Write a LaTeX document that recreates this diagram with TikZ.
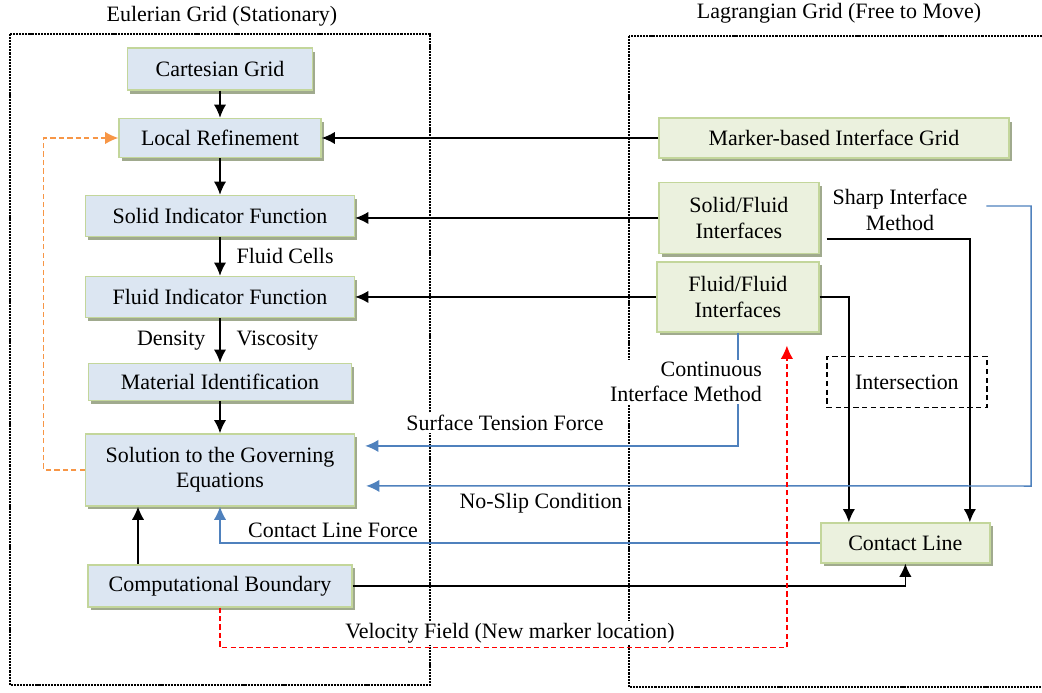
\documentclass[tikz,border=0pt]{standalone}
\usepackage{fontspec}
\setmainfont{Liberation Serif}
\usepackage{tikz}
\definecolor{paleblue}{RGB}{220,230,242}
\definecolor{palegreen}{RGB}{235,241,222}
\definecolor{olive}{RGB}{195,214,155}
\definecolor{shade}{RGB}{160,170,142}
\definecolor{steel}{RGB}{79,129,189}
\definecolor{tangerine}{RGB}{247,150,70}
\usetikzlibrary{shapes.geometric, arrows.meta, shadows, calc}
\tikzstyle{gridbox} = [rectangle, inner sep=0pt, text centered, align=center, draw=olive, line width=0.8pt, drop shadow={shadow xshift=1.6pt, shadow yshift=-2pt, fill=shade, opacity=1}]
\tikzstyle{euler} = [gridbox, fill=paleblue]
\tikzstyle{lagrange} = [gridbox, fill=palegreen]
\tikzstyle{crossing} = [rectangle, inner sep=0pt, text centered, draw=black, line width=0.8pt, dash pattern=on 3pt off 2pt]
\tikzstyle{region} = [line width=1.4pt, dash pattern=on 1.2pt off 0.55pt]
\tikzstyle{note} = [fill=white, inner sep=1pt, align=center]
\tikzstyle{arrow} = [line width=0.85pt, ->, >={Latex[length=7.5pt,width=7pt]}]
\tikzstyle{bluearrow} = [arrow, draw=steel]
\tikzstyle{redarrow} = [arrow, draw=red, line width=0.75pt, dash pattern=on 3pt off 1.8pt]
\tikzstyle{orangearrow} = [arrow, draw=tangerine, line width=0.75pt, dash pattern=on 3pt off 1.8pt]
\begin{document}
\begin{tikzpicture}[x=0.02cm, y=-0.02cm, node distance=1.5cm, font=\fontsize{12.5}{14.5}\selectfont]
        \useasboundingbox (0,0) rectangle (1042,693);
        \draw [region] (10,34) rectangle (430,685);
        \draw [region] (629,36) rectangle (1050,687);
        \node (title0) at (222,16) {Eulerian Grid (Stationary)};
        \node (title1) at (839,13) {Lagrangian Grid (Free to Move)};

        \node (node0) [euler, minimum width=3.7cm, minimum height=0.84cm] at (220,69) {Cartesian Grid};
        \node (node1) [euler, below of=node0, yshift=0.12cm, minimum width=4.04cm, minimum height=0.78cm] {Local Refinement};
        \node (node2) [euler, below of=node1, yshift=-0.06cm, minimum width=5.38cm, minimum height=0.82cm] {Solid Indicator Function};
        \node (node3) [euler, below of=node2, yshift=-0.12cm, minimum width=5.38cm, minimum height=0.82cm] {Fluid Indicator Function};
        \node (node4) [euler, below of=node3, yshift=-0.2cm, minimum width=5.26cm, minimum height=0.74cm] {Material Identification};
        \node (node5) [euler, below of=node4, yshift=-0.26cm, minimum width=5.38cm, minimum height=1.44cm] {Solution to the Governing\\Equations};
        \node (node6) [euler, below of=node5, yshift=-0.82cm, minimum width=5.28cm, minimum height=0.84cm] {Computational Boundary};

        \node (node7) [lagrange, right of=node1, xshift=10.78cm, minimum width=7cm, minimum height=0.8cm] {Marker-based Interface Grid};
        \node (node8) [lagrange, right of=node2, xshift=8.88cm, yshift=-0.04cm, minimum width=3.2cm, minimum height=1.42cm] {Solid/Fluid\\Interfaces};
        \node (node9) [lagrange, right of=node3, xshift=8.86cm, minimum width=3.24cm, minimum height=1.4cm] {Fluid/Fluid\\Interfaces};
        \node (node10) [crossing, right of=node4, xshift=12.24cm, minimum width=3.2cm, minimum height=1.02cm] {Intersection};
        \node (node11) [lagrange, below of=node10, yshift=-1.72cm, xshift=-0.03cm, minimum width=3.38cm, minimum height=0.8cm] {Contact Line};

        \draw [bluearrow, shorten >=0.2cm] (node9.south) |- ($(node5.east)+(0,-24)$);

        \node (note0) [note, align=right] at (686,382) {Continuous\\Interface Method};
        \node (note1) [note] at (900,210) {Sharp Interface\\Method};
        \node (note2) [note] at (505,423) {Surface Tension Force};
        \node (note3) [note] at (541,503) {No-Slip Condition};
        \node (note4) [note] at (333,530) {Contact Line Force};
        \node (note5) [note] at (510,633) {Velocity Field (New marker location)};

        \draw [arrow] (node0) -- (node1);
        \draw [arrow] (node1) -- (node2);
        \draw [arrow] (node2) --node[anchor=west, xshift=0.2cm] {Fluid Cells} (node3);
        \draw [arrow] (node3) --node[anchor=east, xshift=-0.16cm] {Density} node[anchor=west, xshift=0.2cm] {Viscosity} (node4);
        \draw [arrow] (node4) -- (node5);
        \draw [arrow] ($(node6.north)+(-82,0)$) -- ($(node5.south)+(-82,0)$);
        \draw [arrow] (node7) -- (node1);
        \draw [arrow] (node8) -- (node8 -| node2.east);
        \draw [arrow] (node9) -- (node9 -| node3.east);
        \draw [arrow] ($(node8.east)+(7,21)$) -| ($(node11.north)+(64.5,0)$);
        \draw [arrow] (node9.east) -| ($(node11.north)+(-56.5,0)$);
        \draw [arrow] (node6.east) -| (node11.south);
        \coordinate (rim) at (1031,486);
        \draw [bluearrow, shorten >=0.22cm] ($(note1.east)+(17,-4)$) -| (rim) -- ($(node5.east)+(0,16)$);
        \draw [bluearrow] (node11.west) -| (node5.south);
        \draw [redarrow] (node6.south) -- ++(0,40) -| ($(node9.south)+(49,13)$);
        \draw [orangearrow] (node5.west) -- ++(-41,0) |- (node1.west);
    \end{tikzpicture}
\end{document}
